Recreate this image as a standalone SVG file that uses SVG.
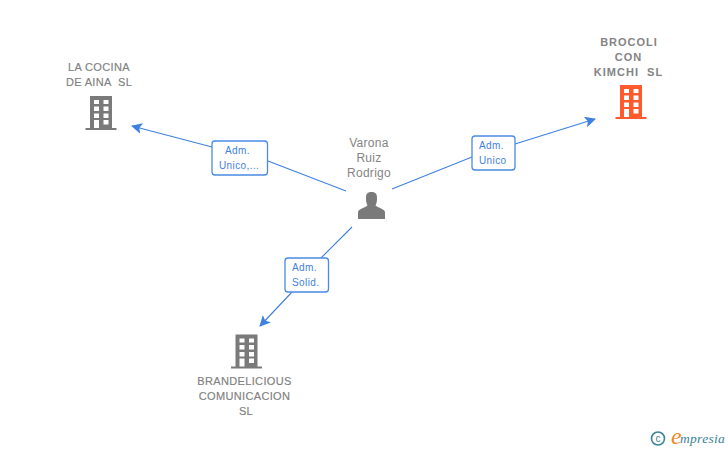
<svg xmlns="http://www.w3.org/2000/svg" width="728" height="450" viewBox="0 0 728 450">
<style>
.n{font:11px "Liberation Sans",Arial,sans-serif;fill:#808080;text-anchor:middle;letter-spacing:.35px;stroke:#808080;stroke-width:.15px}
.o{font:bold 11px "Liberation Sans",Arial,sans-serif;fill:#848484;text-anchor:middle;letter-spacing:1px}
.p{font:12px "Liberation Sans",Arial,sans-serif;fill:#848484;text-anchor:middle;letter-spacing:.3px}
.l{font:10px "Liberation Sans",Arial,sans-serif;fill:#3f81e0;letter-spacing:.4px}
.c{fill:none;stroke:#3f81e0;stroke-width:1.1}
.b{fill:#fff;stroke:#4a8ae4;stroke-width:1.3}
.w{fill:#fff}
</style>
<defs>
<marker id="a" markerUnits="userSpaceOnUse" markerWidth="14" markerHeight="14" refX="10" refY="5.500" orient="auto"><path d="M0 0L11 5.500L0 11L2.500 5.500Z" fill="#3f81e0"/></marker>
<g id="bld">
<path d="M-11 -17.500H11V14.500H15.500V16.500H-15.500V14.500H-11Z"/>
<g class="w"><rect x="-7" y="-13.500" width="5" height="4"/><rect x="2.500" y="-13.500" width="5" height="4"/><rect x="-7" y="-7" width="5" height="4.500"/><rect x="2.500" y="-7" width="5" height="4.500"/><rect x="-7" y="0" width="5" height="4.500"/><rect x="2.500" y="0" width="5" height="4.500"/><rect x="-7" y="6.500" width="5" height="8"/><rect x="2.500" y="6.500" width="5" height="4.500"/></g>
</g>
</defs>
<g id="connectors">
<path class="c" d="M346 191L268 161M212 147L132 126" marker-end="url(#a)"/>
<path class="c" d="M392 189L472 157M515 144L595 119" marker-end="url(#a)"/>
<path class="c" d="M352 227L320 259M292 292L260 326" marker-end="url(#a)"/>
</g>
<g id="edge-label-1"><rect class="b" x="212" y="141" width="55.500" height="34" rx="3"/><text class="l" x="225" y="154">Adm.</text><text class="l" x="219" y="169">Unico,...</text></g>
<g id="edge-label-2"><rect class="b" x="472" y="136" width="43" height="34" rx="3"/><text class="l" x="479" y="149">Adm.</text><text class="l" x="479" y="164">Unico</text></g>
<g id="edge-label-3"><rect class="b" x="285" y="258" width="43.500" height="34" rx="3"/><text class="l" x="292" y="271">Adm.</text><text class="l" x="292" y="286">Solid.</text></g>
<g id="node-cocina"><text class="n" x="99" y="71">LA COCINA</text><text class="n" x="99" y="86" xml:space="preserve">DE AINA  SL</text><use href="#bld" x="101" y="113.500" fill="#7a7a7a"/></g>
<g id="node-brocoli"><text class="o" x="629" y="46">BROCOLI</text><text class="o" x="628.500" y="61">CON</text><text class="o" x="628.500" y="76" xml:space="preserve">KIMCHI  SL</text><use href="#bld" x="631" y="102.500" fill="#ff5a2b"/></g>
<g id="node-brandelicious"><use href="#bld" x="246.500" y="352" fill="#7a7a7a"/><text class="n" x="244.500" y="385">BRANDELICIOUS</text><text class="n" x="244.500" y="400">COMUNICACION</text><text class="n" x="246" y="415">SL</text></g>
<g id="node-varona"><text class="p" x="369" y="147">Varona</text><text class="p" x="369" y="162">Ruiz</text><text class="p" x="369" y="177">Rodrigo</text><path d="M358 219V212.500C358 209 364 208 367.500 205.500C366 203 366 200 366 197.500C366 193.500 368 192 371.500 192C375 192 377 193.500 377 197.500C377 200 377 203 375.500 205.500C379 208 385 209 385 212.500V219Z" fill="#7a7a7a"/></g>
<g id="logo"><circle cx="658" cy="438.500" r="6.500" fill="none" stroke="#3b8394" stroke-width="1.600"/><text x="658" y="442" font-family="Liberation Sans,sans-serif" font-size="10" fill="#3b8394" text-anchor="middle">c</text><text x="671" y="444" font-family="Liberation Serif,serif" font-style="italic" font-size="24" fill="#f08a1e">e</text><text x="680" y="443" font-family="Liberation Serif,serif" font-style="italic" font-size="13.500" fill="#3b8394" letter-spacing=".3">mpresia</text></g>
</svg>
